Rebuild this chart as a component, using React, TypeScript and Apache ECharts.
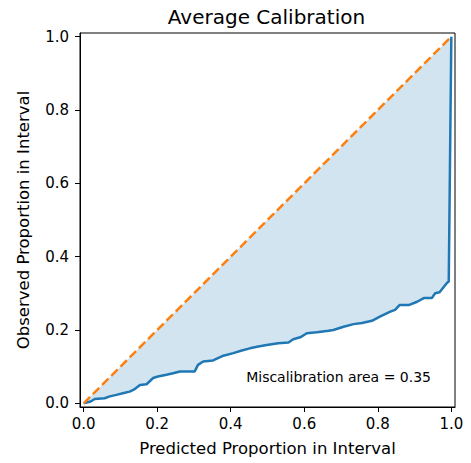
import React, { useEffect, useRef } from "react";
import * as echarts from "echarts";

const curveX = [0, 0.019, 0.03, 0.057, 0.071, 0.089, 0.112, 0.125, 0.139, 0.153, 0.171, 0.189, 0.202, 0.225, 0.243, 0.262, 0.302, 0.311, 0.325, 0.352, 0.38, 0.407, 0.43, 0.452, 0.475, 0.498, 0.529, 0.557, 0.57, 0.589, 0.607, 0.634, 0.666, 0.679, 0.707, 0.734, 0.757, 0.784, 0.807, 0.834, 0.847, 0.859, 0.884, 0.907, 0.925, 0.947, 0.956, 0.968, 0.988, 0.993, 1.0];
const curveY = [0, 0.005, 0.012, 0.014, 0.019, 0.023, 0.029, 0.032, 0.039, 0.05, 0.052, 0.069, 0.073, 0.078, 0.082, 0.087, 0.087, 0.105, 0.114, 0.117, 0.13, 0.137, 0.144, 0.15, 0.155, 0.159, 0.164, 0.166, 0.175, 0.18, 0.191, 0.194, 0.198, 0.2, 0.209, 0.216, 0.219, 0.225, 0.237, 0.25, 0.255, 0.268, 0.268, 0.277, 0.287, 0.287, 0.3, 0.303, 0.328, 0.332, 1.0];
const idealX = [0, 1];
const idealY = [0, 1];
const tickValues = [0, 0.2, 0.4, 0.6, 0.8, 1.0];
const titleText = "Average Calibration";
const xLabel = "Predicted Proportion in Interval";
const yLabel = "Observed Proportion in Interval";
const miscalArea = 0.35;

const FONT = "DejaVu Sans";

export default function App() {
  const ref = useRef<HTMLDivElement>(null);
  useEffect(() => {
    if (!ref.current) return;
    const chart = echarts.init(ref.current, null, { renderer: "svg" });
    const curve = curveX.map((x, i) => [x, curveY[i]]);
    const ideal = idealX.map((x, i) => [x, idealY[i]]);
    const axisCommon = {
      type: "value" as const,
      min: -0.01,
      max: 1.01,
      splitLine: { show: false },
      axisLine: { show: true, onZero: false, lineStyle: { color: "#000", width: 1 } },
      axisTick: { show: true, inside: false, length: 5, customValues: tickValues, lineStyle: { color: "#000", width: 1 } },
      nameTextStyle: { fontFamily: FONT, fontSize: 16.5, color: "#000" },
      nameLocation: "middle" as const,
    };
    chart.setOption({
      animation: false,
      backgroundColor: "#fff",
      title: {
        text: titleText,
        left: 261.5,
        textAlign: "center",
        top: 2,
        textStyle: { fontFamily: FONT, fontSize: 20, fontWeight: "normal", color: "#000" },
      },
      grid: { left: 80, right: 16, top: 33, bottom: 56, show: true, borderColor: "#000", borderWidth: 1, backgroundColor: "transparent" },
      xAxis: {
        ...axisCommon,
        name: xLabel,
        nameGap: 33,
        axisLabel: { customValues: tickValues, formatter: (v: number) => v.toFixed(1), fontFamily: FONT, fontSize: 15, color: "#000", margin: 9 },
      },
      yAxis: {
        ...axisCommon,
        name: yLabel,
        nameGap: 48,
        axisLabel: { customValues: tickValues, formatter: (v: number) => v.toFixed(1), fontFamily: FONT, fontSize: 15, color: "#000", margin: 11 },
      },
      series: [
        {
          type: "custom",
          data: curve,
          z: 1,
          silent: true,
          clip: true,
          renderItem: (params: any, api: any) => {
            if (params.dataIndex !== 0) return null;
            const pts = curve.map((p) => api.coord(p));
            // close back along the ideal diagonal
            for (let i = ideal.length - 1; i >= 0; i--) pts.push(api.coord(ideal[i]));
            return {
              type: "polygon",
              shape: { points: pts },
              style: { fill: "rgba(31,119,180,0.2)", stroke: "none" },
            };
          },
        },
        {
          type: "line",
          data: curve,
          symbol: "none",
          lineStyle: { color: "#1f77b4", width: 2.5 },
          z: 3,
        },
        {
          type: "line",
          data: ideal,
          symbol: "none",
          lineStyle: { color: "#ff7f0e", width: 2.5, type: [9, 4] },
          z: 4,
        },
      ],
      graphic: [
        {
          type: "text",
          x: 431,
          y: 377,
          style: {
            text: `Miscalibration area = ${miscalArea.toFixed(2)}`,
            fontFamily: FONT,
            fontSize: 14,
            fill: "#000",
            textAlign: "right",
            textVerticalAlign: "middle",
          },
          z: 10,
        },
      ],
    });
    return () => chart.dispose();
  }, []);
  return <div ref={ref} style={{ position: "fixed", left: 0, top: 0, width: 471, height: 463, background: "#fff" }} />;
}
